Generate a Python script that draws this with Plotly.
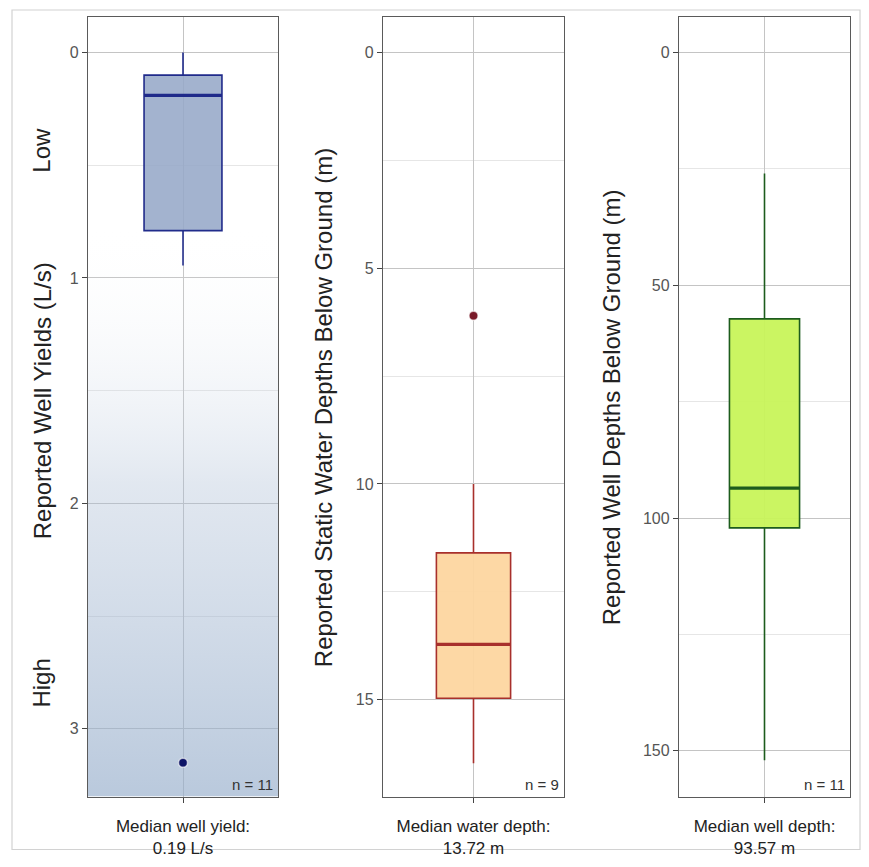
import plotly.graph_objects as go

# ---------------- data ----------------
panel_labels = ["Median well yield:<br>0.19 L/s",
                "Median water depth:<br>13.72 m",
                "Median well depth:<br>93.57 m"]
y_titles = ["Reported Well Yields (L/s)",
            "Reported Static Water Depths Below Ground (m)",
            "Reported Well Depths Below Ground (m)"]
n_labels = ["n = 11", "n = 9", "n = 11"]

# box statistics: lower fence, q1, median, q3, upper fence
yield_stats = [0.0, 0.10, 0.19, 0.79, 0.945]
water_stats = [10.0, 11.6, 13.72, 14.97, 16.48]
depth_stats = [26.0, 57.2, 93.57, 102.1, 152.0]

yield_outliers = [3.15]
water_outliers = [6.1]
depth_outliers = []

yield_ticks = [0, 1, 2, 3]
water_ticks = [0, 5, 10, 15]
depth_ticks = [0, 50, 100, 150]
yield_minor = [0.5, 1.5, 2.5]
water_minor = [2.5, 7.5, 12.5]
depth_minor = [25, 75, 125]

# ---------------- styling ----------------
FONT = "Liberation Sans, Arial, sans-serif"
OFF = 8                      # page body margin
W, H = 869 - 2 * OFF, 867 - 2 * OFF - 1


def px_x(p):
    return (p - OFF) / W


def px_y(p):
    fy = min(max(p - OFF, 0.5), H - 0.5)
    return (H - fy) / H


plot_top, plot_bot = 17, 804
x_doms = [(88, 278), (383, 564), (679, 850)]
y_ranges = [(3.30, -0.158), (17.25, -0.83), (159.8, -7.66)]
fills = ["rgba(150,168,200,0.88)", "rgba(253,214,160,0.95)", "rgba(200,244,90,0.95)"]
lines = ["#1f2a8a", "#a8302c", "#1d5c1d"]
out_cols = ["#0d1466", "#7a1b2a", "#1d5c1d"]

stats = [yield_stats, water_stats, depth_stats]
outs = [yield_outliers, water_outliers, depth_outliers]
ticks = [yield_ticks, water_ticks, depth_ticks]
minors = [yield_minor, water_minor, depth_minor]

fig = go.Figure()

# gradient background for the well-yield panel (Low -> High)
fig.add_trace(go.Scatter(
    x=[-0.5, 0.5, 0.5, -0.5, -0.5],
    y=[y_ranges[0][1], y_ranges[0][1], y_ranges[0][0], y_ranges[0][0], y_ranges[0][1]],
    mode="lines", line=dict(width=0), fill="toself",
    fillgradient=dict(type="vertical",
                      colorscale=[[0, "rgba(255,255,255,0)"], [0.45, "rgba(170,188,212,0.35)"],
                                  [1, "rgba(148,172,202,0.66)"]],
                      start=0.75, stop=3.3),
    hoverinfo="skip", showlegend=False, xaxis="x", yaxis="y"))

for i in range(3):
    ax = "" if i == 0 else str(i + 1)
    lo, q1, med, q3, hi = stats[i]
    fig.add_trace(go.Box(
        x=[0], q1=[q1], median=[med], q3=[q3], lowerfence=[lo], upperfence=[hi],
        width=0.41, whiskerwidth=0, boxpoints=False,
        fillcolor=fills[i], line=dict(color=lines[i], width=1.6),
        showlegend=False, hoverinfo="skip", xaxis="x" + ax, yaxis="y" + ax))
    # thicker median line
    fig.add_trace(go.Scatter(
        x=[-0.205, 0.205], y=[med, med], mode="lines",
        line=dict(color=lines[i], width=3.2), showlegend=False,
        hoverinfo="skip", xaxis="x" + ax, yaxis="y" + ax))
    if outs[i]:
        fig.add_trace(go.Scatter(
            x=[0] * len(outs[i]), y=outs[i], mode="markers",
            marker=dict(color=out_cols[i], size=9,
                        line=dict(color="rgba(255,255,255,0.6)", width=1.5)),
            showlegend=False, hoverinfo="skip", xaxis="x" + ax, yaxis="y" + ax))

layout = dict(
    width=W, height=H, margin=dict(l=0, r=0, t=0, b=0),
    paper_bgcolor="white", plot_bgcolor="white",
    font=dict(family=FONT, color="#222"),
    showlegend=False,
)
ydom = [px_y(plot_bot), px_y(plot_top)]
for i in range(3):
    ax = "" if i == 0 else str(i + 1)
    layout["xaxis" + ax] = dict(
        domain=[px_x(x_doms[i][0]), px_x(x_doms[i][1])], range=[-0.5, 0.5],
        anchor="y" + ax, tickmode="array", tickvals=[0], ticktext=[panel_labels[i]],
        showgrid=True, gridcolor="#c4c4c4", gridwidth=1, zeroline=False,
        showline=True, mirror=True, linecolor="#5a5a5a", linewidth=1.4,
        ticks="outside", ticklen=5, tickcolor="#444", ticklabelstandoff=9,
        tickfont=dict(size=17, color="#222", family=FONT), fixedrange=True)
    layout["yaxis" + ax] = dict(
        domain=ydom, range=list(y_ranges[i]), anchor="x" + ax,
        tickmode="array", tickvals=ticks[i],
        showgrid=True, gridcolor="#c4c4c4", gridwidth=1.3, zeroline=False,
        showline=True, mirror=True, linecolor="#5a5a5a", linewidth=1.4,
        ticks="outside", ticklen=5, tickcolor="#444",
        tickfont=dict(size=16, color="#555", family=FONT),
        minor=dict(tickmode="array", tickvals=minors[i], showgrid=True,
                   gridcolor="#e6e6e6", gridwidth=1, ticks=""),
        fixedrange=True)
fig.update_layout(**layout)

ann = []
title_pos = [(42, 405), (323, 412), (611, 411)]
for i in range(3):
    ann.append(dict(text=y_titles[i], xref="paper", yref="paper",
                    x=px_x(title_pos[i][0]), y=px_y(title_pos[i][1]),
                    textangle=-90, showarrow=False, xanchor="center", yanchor="middle",
                    font=dict(size=24, color="#222", family=FONT)))
    ax = "" if i == 0 else str(i + 1)
    ann.append(dict(text=n_labels[i], xref=("x" + ax + " domain"), yref=("y" + ax + " domain"),
                    x=0.985, y=0.002, xanchor="right", yanchor="bottom", showarrow=False,
                    font=dict(size=15, color="#333", family=FONT)))
for txt, yy in [("Low", 152), ("High", 690)]:
    ann.append(dict(text=txt, xref="paper", yref="paper", x=px_x(42), y=px_y(yy),
                    textangle=-90, showarrow=False, xanchor="center", yanchor="middle",
                    font=dict(size=24, color="#222", family=FONT)))
fig.update_layout(annotations=ann)

fig.add_shape(type="rect", xref="paper", yref="paper",
              x0=px_x(12), x1=px_x(860), y0=px_y(858), y1=px_y(10),
              line=dict(color="#d2d2d2", width=1.2), fillcolor="rgba(0,0,0,0)", layer="below")

fig.write_html("out.html")
